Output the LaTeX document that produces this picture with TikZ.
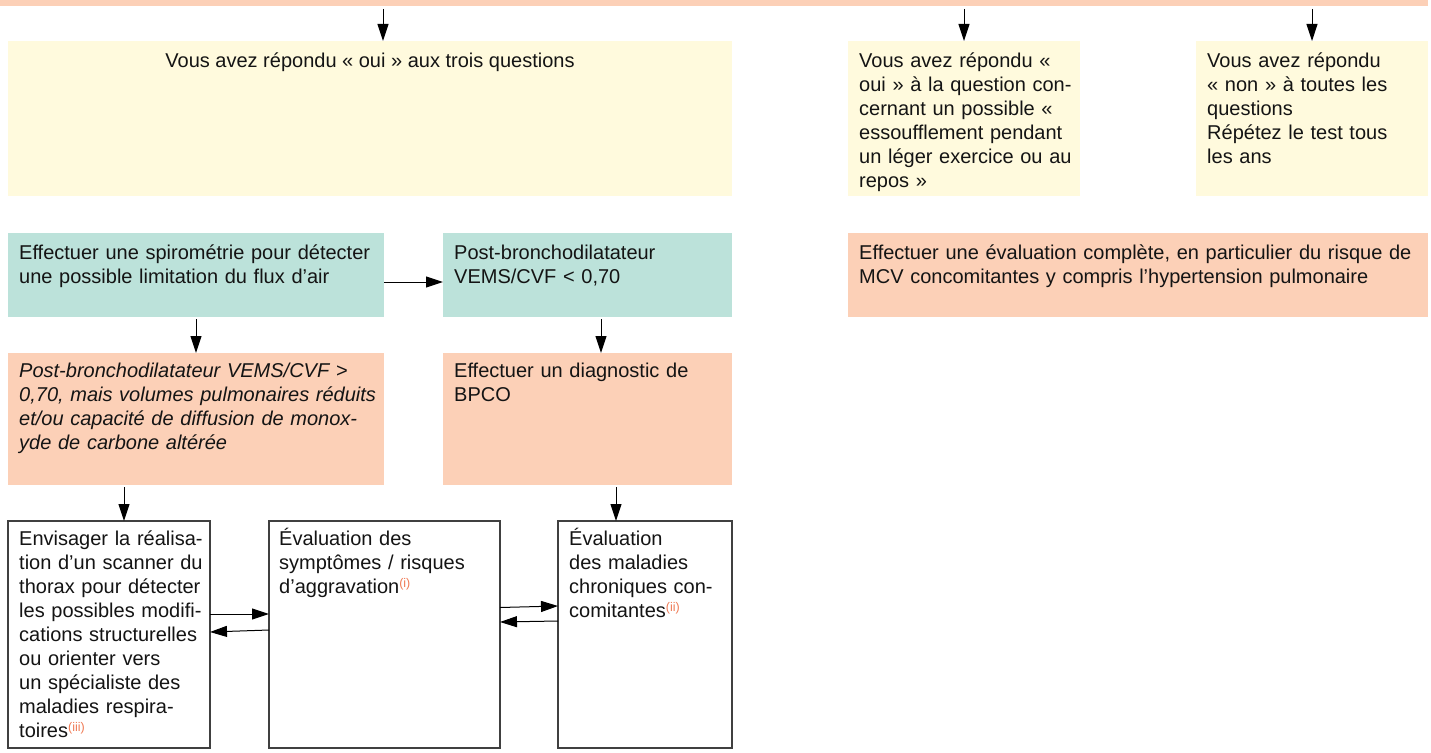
\documentclass[tikz,border=0pt]{standalone}
\usepackage{fontspec}
\setmainfont{Liberation Sans}
\usetikzlibrary{arrows.meta}

\definecolor{peach}{RGB}{252,208,183}
\definecolor{mint}{RGB}{188,226,218}
\definecolor{cream}{RGB}{255,250,221}
\definecolor{notecol}{RGB}{240,122,84}
\definecolor{ink}{RGB}{20,20,20}

% small coloured reference mark after a word
\newcommand{\refmark}[1]{\raisebox{5.5pt}{\fontsize{12.5}{12.5}\selectfont\color{notecol}(#1)}}

\begin{document}
\begin{tikzpicture}[x=1pt,y=-1pt,
  font=\fontsize{20}{24}\selectfont, text=ink,
  panel/.style={anchor=north west, inner sep=0pt, outer sep=0pt},
  framed/.style={panel, draw=black!75, line width=1.2pt, fill=white},
  txt/.style={anchor=base west, inner sep=0pt, align=left, text width=#1},
  arr/.style={line width=1pt, draw=black, -{Triangle[length=17pt,width=11pt]}}
]
\useasboundingbox (0,0) rectangle (1431,752);

% ---------- boxes ----------
\node[panel, fill=peach, minimum width=1428pt, minimum height=6pt] (top) at (0,0) {};

\node[panel, fill=cream, minimum width=724pt, minimum height=155pt] (yes) at (8,41) {};
\node[panel, fill=cream, minimum width=232pt, minimum height=155pt] (breath) at (848,41) {};
\node[panel, fill=cream, minimum width=232pt, minimum height=155pt] (no) at (1196,41) {};

\node[panel, fill=mint, minimum width=376pt, minimum height=84pt] (spiro) at (8,233) {};
\node[panel, fill=mint, minimum width=289pt, minimum height=84pt] (post) at (443,233) {};
\node[panel, fill=peach, minimum width=580pt, minimum height=84pt] (full) at (848,233) {};

\node[panel, fill=peach, minimum width=376pt, minimum height=132pt] (restr) at (8,353) {};
\node[panel, fill=peach, minimum width=289pt, minimum height=132pt] (bpco) at (443,353) {};

\node[framed, minimum width=202pt, minimum height=227pt] (scan) at (8,521) {};
\node[framed, minimum width=231pt, minimum height=227pt] (symp) at (269,521) {};
\node[framed, minimum width=174pt, minimum height=227pt] (comor) at (558,521) {};

% ---------- texts ----------
\node[anchor=base, inner sep=0pt] (yes-t) at (370,67)
  {Vous avez répondu « oui » aux trois questions};
\node[txt=225pt] (breath-t) at (859,67)
  {Vous avez répondu «\\oui » à la question con-\\cernant un possible «\\essoufflement pendant\\un léger exercice ou au\\repos »};
\node[txt=222pt] (no-t) at (1207,67)
  {Vous avez répondu\\« non » à toutes les\\questions\\Répétez le test tous\\les ans};

\node[txt=370pt] (spiro-t) at (19,259)
  {Effectuer une spirométrie pour détecter\\une possible limitation du flux d’air};
\node[txt=275pt] (post-t) at (454,259)
  {Post-bronchodilatateur\\VEMS/CVF < 0,70};
\node[txt=575pt] (full-t) at (859,259)
  {Effectuer une évaluation complète, en particulier du risque de\\MCV concomitantes y compris l’hypertension pulmonaire};

\node[txt=370pt, font=\fontsize{20}{24}\selectfont\itshape] (restr-t) at (19,377)
  {Post-bronchodilatateur VEMS/CVF >\\0,70, mais volumes pulmonaires réduits\\et/ou capacité de diffusion de monox-\\yde de carbone altérée};
\node[txt=275pt] (bpco-t) at (454,377)
  {Effectuer un diagnostic de\\BPCO};

\node[txt=195pt] (scan-t) at (19,545)
  {Envisager la réalisa-\\tion d’un scanner du\\thorax pour détecter\\les possibles modifi-\\cations structurelles\\ou orienter vers\\un spécialiste des\\maladies respira-\\toires\refmark{iii}};
\node[txt=220pt] (symp-t) at (279,545)
  {Évaluation des\\symptômes / risques\\d’aggravation\refmark{i}};
\node[txt=165pt] (comor-t) at (569,545)
  {Évaluation\\des maladies\\chroniques con-\\comitantes\refmark{ii}};

% ---------- connectors ----------
\coordinate (xa) at (383,0);
\coordinate (xb) at (601,0);
\coordinate (xc) at (124,0);
\coordinate (xd) at (616,0);
\coordinate (ya) at (0,282);

\draw[arr, shorten <=3pt] (top.south -| xa) -- (yes.north -| xa);
\draw[arr, shorten <=3pt] (top.south -| breath.north) -- (breath.north);
\draw[arr, shorten <=3pt] (top.south -| no.north) -- (no.north);

\draw[arr] (spiro.east |- ya) -- (post.west |- ya);
\draw[arr, shorten <=2pt] (spiro.south) -- (restr.north);
\draw[arr, shorten <=2pt] (post.south -| xb) -- (bpco.north -| xb);

\draw[arr, shorten <=2pt] (restr.south -| xc) -- (scan.north -| xc);
\draw[arr, shorten <=2pt] (bpco.south -| xd) -- (comor.north -| xd);

\draw[arr] ([yshift=20.5pt]scan.east) -- ([yshift=20.5pt]symp.west);
\draw[arr] ([yshift=4.5pt]symp.west) -- ([yshift=2.5pt]scan.east);
\draw[arr] ([yshift=27pt]symp.east) -- ([yshift=28.5pt]comor.west);
\draw[arr] ([yshift=13.5pt]comor.west) -- ([yshift=12.5pt]symp.east);
\end{tikzpicture}
\end{document}
